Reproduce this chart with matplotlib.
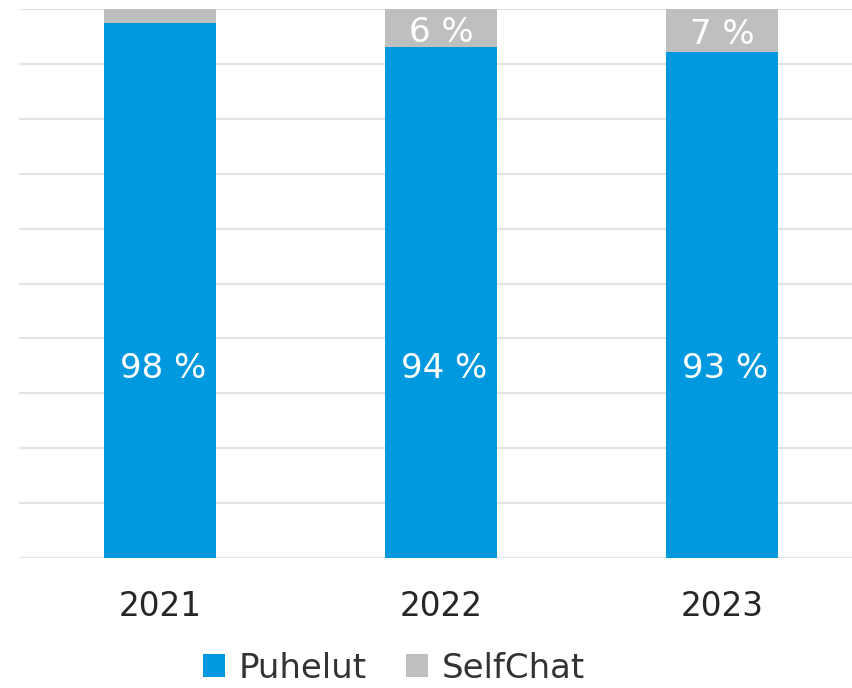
import matplotlib
matplotlib.use("Agg")
import matplotlib.pyplot as plt
import numpy as np

years = ["2021", "2022", "2023"]
puhelut = [97.5, 93.0, 92.2]
selfchat = [2.5, 7.0, 7.8]
puhelut_labels = ["98 %", "94 %", "93 %"]
selfchat_labels = ["", "6 %", "7 %"]

blue = "#0099E0"
grey = "#BFBFBF"

plt.rcParams['font.family'] = ['DejaVu Sans']

fig = plt.figure(figsize=(8.53, 6.88), dpi=100)
# axes spans past the right edge, like the cropped original
ax = fig.add_axes([19.5 / 853, 130 / 688, 843 / 853, 549 / 688])

x = np.arange(len(years))
b1 = ax.bar(x, puhelut, width=0.4, color=blue, label="Puhelut", zorder=2)
b2 = ax.bar(x, selfchat, width=0.4, bottom=puhelut, color=grey, label="SelfChat", zorder=2)

for xi, lab in zip(x, puhelut_labels):
    ax.text(xi + 0.01, 34.5, lab, ha="center", va="center", color="white", fontsize=24.5)
for xi, p, s, lab in zip(x, puhelut, selfchat, selfchat_labels):
    ax.annotate(lab, (xi, p + s / 2), xytext=(0, -3), textcoords="offset points",
                ha="center", va="center", color="white", fontsize=24.5)

ax.set_xlim(-0.5, 2.5)
ax.set_ylim(0, 100)
ax.set_yticks(np.arange(0, 101, 10))
ax.yaxis.grid(True, color="#E3E3E3", linewidth=1.5, zorder=0)
ax.tick_params(axis="y", left=False, labelleft=False)
ax.tick_params(axis="x", length=0, pad=23, labelsize=23.5, labelcolor="#262626")
ax.set_xticks(x)
ax.set_xticklabels(years)
for s in ax.spines.values():
    s.set_visible(False)

fig.legend(handles=[b1, b2], labels=["Puhelut", "SelfChat"], loc="center",
           bbox_to_anchor=(394 / 853, 1 - 668 / 688), ncol=2, frameon=False,
           fontsize=24.5, handlelength=0.66, handleheight=0.66, handletextpad=0.4,
           columnspacing=1.15, labelcolor="#333333")

fig.savefig("out.png", dpi=100)
